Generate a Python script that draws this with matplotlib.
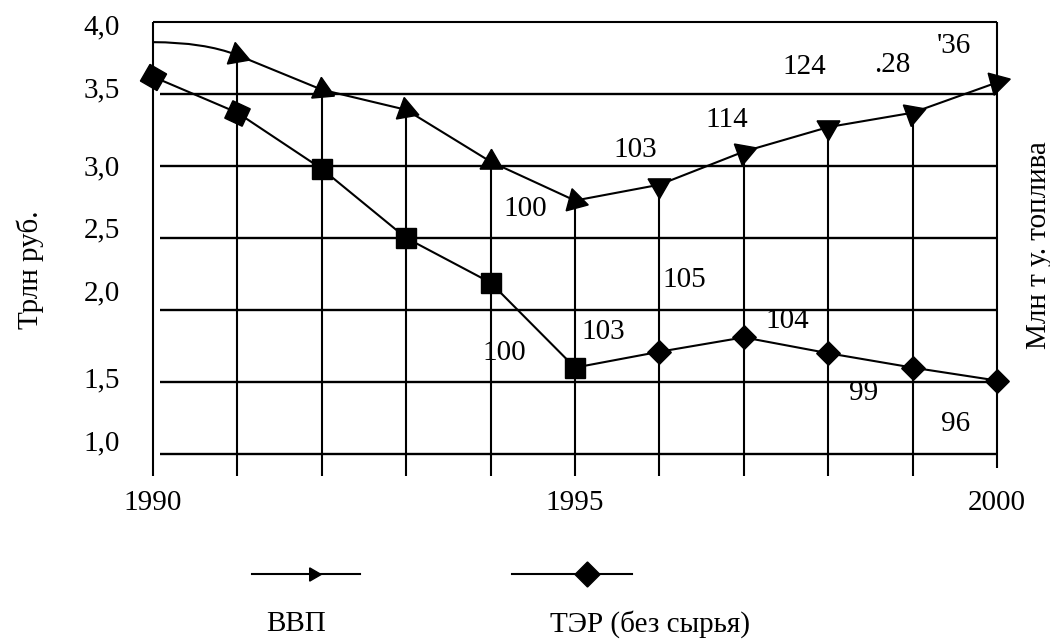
import numpy as np
import matplotlib
matplotlib.use("Agg")
import matplotlib.pyplot as plt
from matplotlib.path import Path
from matplotlib.patches import PathPatch
from matplotlib.transforms import ScaledTranslation

plt.rcParams['font.family'] = ['Liberation Serif', 'DejaVu Serif']
FS = 21

# data
years = [1990, 1991, 1992, 1993, 1994, 1995, 1996, 1997, 1998, 1999, 2000]
gdp = [3.86, 3.77, 3.53, 3.39, 3.03, 2.76, 2.87, 3.10, 3.27, 3.37, 3.58]   # трлн руб.
ter = [3.62, 3.37, 2.98, 2.50, 2.19, 1.60, 1.71, 1.81, 1.70, 1.60, 1.51]   # млн т у. т.
gdp_labels = ['100', '103', '114', '124', '.28', "'36"]      # 1995-2000
ter_labels = ['100', '103', '105', '104', '99', '96']        # 1995-2000
grid_vals = [1.0, 1.5, 2.0, 2.5, 3.0, 3.5]
ytick_vals = [1.0, 1.5, 2.0, 2.5, 3.0, 3.5, 4.0]
ytick_text = ['1,0', '1,5', '2,0', '2,5', '3,0', '3,5', '4,0']
xtick_vals = [1990, 1995, 2000]

# style: marker rotations, label offsets (pixels)
tri_angles = [0, 10, 5, 10, 0, 15, 180, 170, 180, 170, -75]
ter_markers = [(4, 0, 15), (4, 0, 20), 's', 's', 's', 's',
               (4, 0, 0), (4, 0, 0), (4, 0, 0), (4, 0, 0), (4, 0, 0)]
gdp_off = [(-50, -8), (-24, 35), (-17, 32), (-24, 60), (-20, 48), (-43, 36)]
ter_off = [(-71, 15), (-56, 20), (-59, 57), (-41, 32), (-49, -25), (-41, -43)]
ytick_shift = [14, 5, 20, 11, 1, 7, -2]   # px up, per tick label

BOTTOM = 0.85
LW = 1.5

fig = plt.figure(figsize=(10.5, 6.44), dpi=100)
ax = fig.add_axes([153 / 1050, 1 - 482.8 / 644, 844 / 1050, (482.8 - 22) / 644])
ax.set_xlim(1990, 2000)
ax.set_ylim(0.8, 4.0)
for s in ax.spines.values():
    s.set_visible(False)

# frame and grid
ax.hlines(4.0, 1990, 2000, color='black', lw=LW, clip_on=False)
ax.vlines(1990, BOTTOM, 4.0, color='black', lw=LW, clip_on=False)
ax.vlines(2000, BOTTOM + 0.05, 4.0, color='black', lw=LW, clip_on=False)
ax.hlines(grid_vals, 1990.08, 2000, color='black', lw=LW + 0.2, clip_on=False)
ax.vlines(years[1:-1], BOTTOM, gdp[1:-1], color='black', lw=LW, clip_on=False)

# GDP: curved start then straight segments with triangle "arrows"
x0, y0, x1, y1 = years[0], gdp[0], years[1], gdp[1]
curve = Path([(x0, y0), (x0 + 0.6 * (x1 - x0), y0), (x1, y1)],
             [Path.MOVETO, Path.CURVE3, Path.CURVE3])
ax.add_patch(PathPatch(curve, fill=False, lw=LW, color='black', clip_on=False))
ax.plot(years[1:], gdp[1:], color='black', lw=LW, clip_on=False)
for x, y, a in zip(years[1:], gdp[1:], tri_angles[1:]):
    ax.plot(x, y, marker=(3, 0, a), ms=19, color='black', clip_on=False, zorder=4)

# TER
ax.plot(years, ter, color='black', lw=LW, clip_on=False)
for x, y, m in zip(years, ter, ter_markers):
    ms = 14 if m == 's' else (17 if m == (4, 0, 0) else 19.5)
    ax.plot(x, y, marker=m, ms=ms, color='black', clip_on=False, zorder=4)

# value labels
for lab, x, y, off in zip(gdp_labels, years[5:], gdp[5:], gdp_off):
    ax.annotate(lab, (x, y), xytext=off, textcoords='offset pixels',
                ha='center', va='center', fontsize=FS)
for lab, x, y, off in zip(ter_labels, years[5:], ter[5:], ter_off):
    ax.annotate(lab, (x, y), xytext=off, textcoords='offset pixels',
                ha='center', va='center', fontsize=FS)

# ticks
ax.set_yticks(ytick_vals)
ax.set_yticklabels(ytick_text, fontsize=FS)
ax.set_xticks(xtick_vals)
ax.set_xticklabels([str(v) for v in xtick_vals], fontsize=FS)
ax.tick_params(length=0)
ax.tick_params(axis='y', pad=24)
ax.tick_params(axis='x', pad=5)
for lab, sh in zip(ax.get_yticklabels(), ytick_shift):
    lab.set_transform(lab.get_transform() + ScaledTranslation(0, sh / 100, fig.dpi_scale_trans))

fig.text(30 / 1050, 1 - 270 / 644, 'Трлн руб.', rotation=90, ha='center', va='center', fontsize=FS)
fig.text(1039 / 1050, 1 - 245 / 644, 'Млн т у. топлива', rotation=90, ha='center', va='center', fontsize=FS)

# legend drawn below the chart
lax = fig.add_axes([0, 0, 1, 1], zorder=-1)
lax.set_xlim(0, 1050)
lax.set_ylim(644, 0)
lax.axis('off')
lax.plot([252, 360], [574, 574], color='black', lw=LW)
lax.plot(313, 574, marker=(3, 0, -90), ms=11, color='black')
lax.plot([512, 632], [574, 574], color='black', lw=LW)
lax.plot(587, 574, marker=(4, 0, 0), ms=18, color='black')
lax.text(296, 624, 'ВВП', ha='center', va='center', fontsize=FS)
lax.text(650, 624, 'ТЭР (без сырья)', ha='center', va='center', fontsize=FS)

fig.savefig('out.png', dpi=100, facecolor='white')
